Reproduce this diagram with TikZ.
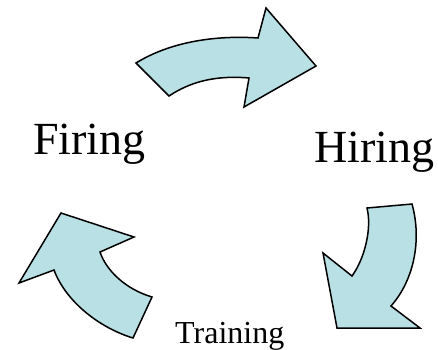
\documentclass[tikz,border=0pt]{standalone}
\usepackage{fontspec}
\setmainfont{Liberation Serif}
\usetikzlibrary{calc}

\definecolor{arrowfill}{RGB}{185,224,228}
\tikzset{
  cyclearrow/.style={fill=arrowfill,draw=black,line width=1.5pt,line join=miter},
  biglabel/.style={anchor=base west,inner sep=0pt,font=\fontsize{46}{50}\selectfont},
  smalllabel/.style={anchor=base west,inner sep=0pt,font=\fontsize{32}{34}\selectfont}
}

\begin{document}
\begin{tikzpicture}[x=1pt,y=-1pt]
\useasboundingbox (0,0) rectangle (438,349);

% Top arrow, Firing to Hiring
\draw[cyclearrow] (136,63) .. controls (170,42) and (215,35) .. (258,38)
  -- (266,8) -- (316,66) -- (244,107) -- (249,78)
  .. controls (215,75) and (190,82) .. (169,96) -- cycle;

% Right arrow, Hiring to Training
\draw[cyclearrow] (367,208) -- (412,204)
  .. controls (422,240) and (414,280) .. (391,306)
  -- (420,328) -- (337,328) -- (323,253) -- (352,276)
  .. controls (365,258) and (372,228) .. cycle;

% Left arrow, Training to Firing
\draw[cyclearrow] (61,213) -- (134,237) -- (100,252)
  .. controls (106,270) and (125,289) .. (152,297)
  -- (133,338)
  .. controls (100,328) and (66,302) .. (54,270)
  -- (19,283) -- cycle;

% Labels
\node[biglabel] (firing) at (33,154) {Firing};
\node[biglabel] (hiring) at (314,162) {Hiring};
\node[smalllabel] (training) at (175,343) {Training};
\end{tikzpicture}
\end{document}
